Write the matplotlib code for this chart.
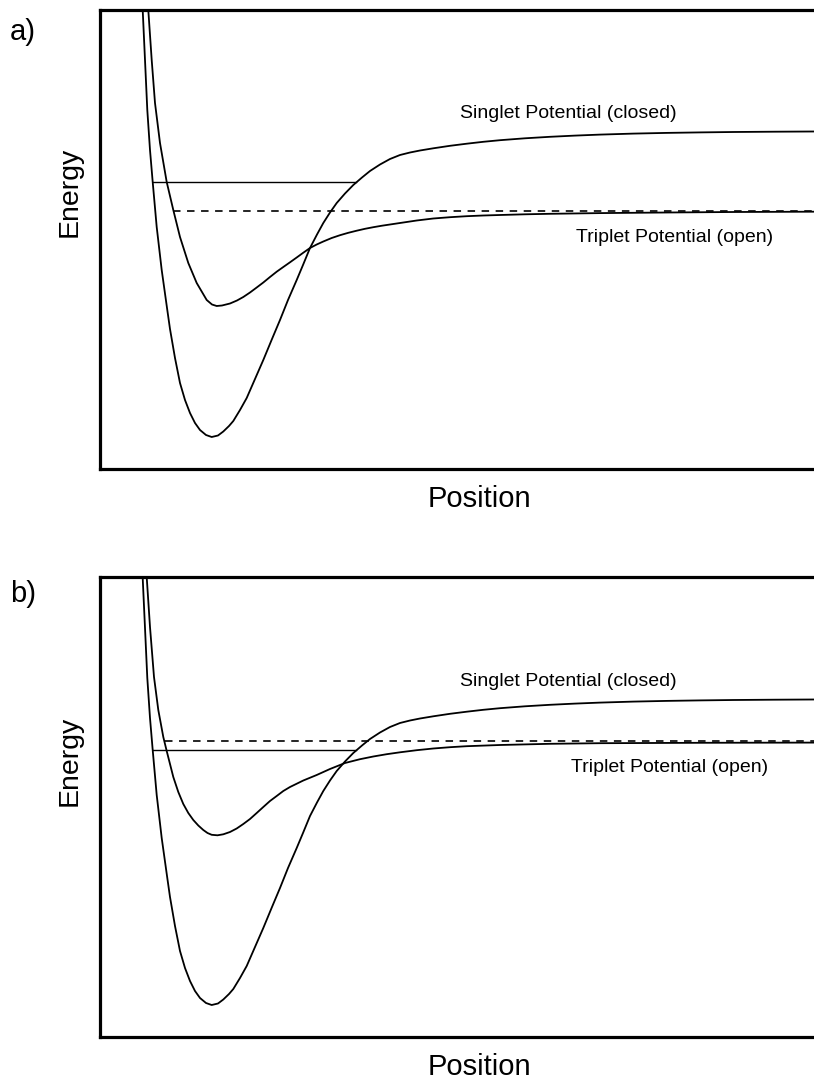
import matplotlib
matplotlib.use("Agg")
import matplotlib.pyplot as plt

plt.rcParams['font.family'] = ['Liberation Sans', 'DejaVu Sans']
plt.rcParams['lines.scale_dashes'] = False

# singlet (closed channel) potential, same curve in both panels
singlet_r = [0.41, 0.427, 0.45, 0.473, 0.50, 0.527, 0.567, 0.617, 0.673, 0.70, 0.75, 0.80,
             0.85, 0.90, 0.95, 1.00, 1.06, 1.117, 1.18, 1.233, 1.29, 1.333, 1.40, 1.467,
             1.55, 1.633, 1.72, 1.80, 1.88, 1.967, 2.03, 2.10, 2.17, 2.233, 2.30, 2.367,
             2.45, 2.533, 2.62, 2.70, 2.80, 2.90, 3.00, 3.10, 3.20, 3.333, 3.50, 3.667,
             3.833, 4.00, 4.25, 4.50, 4.75, 5.00, 5.333, 5.667, 6.00, 6.333, 6.75, 7.133,
             7.60]
singlet_e = [5.0, 4.59, 4.09, 3.59, 3.19, 2.87, 2.42, 1.99, 1.59, 1.40, 1.11, 0.86,
             0.69, 0.56, 0.46, 0.39, 0.34, 0.32, 0.335, 0.375, 0.43, 0.48, 0.59, 0.71,
             0.90, 1.09, 1.30, 1.49, 1.69, 1.89, 2.04, 2.21, 2.345, 2.46, 2.565, 2.66,
             2.755, 2.84, 2.915, 2.98, 3.045, 3.10, 3.14, 3.165, 3.185, 3.207, 3.232, 3.253,
             3.272, 3.288, 3.307, 3.322, 3.334, 3.344, 3.354, 3.361, 3.366, 3.37, 3.373, 3.375,
             3.377]

# triplet (open channel) potential, panel a
triplet_a_r = [0.455, 0.483, 0.517, 0.55, 0.60, 0.667, 0.733, 0.80, 0.883, 0.967, 1.067,
               1.12, 1.167, 1.22, 1.30, 1.37, 1.433, 1.50, 1.567, 1.633, 1.70, 1.767,
               1.833, 1.90, 1.967, 2.033, 2.10, 2.167, 2.233, 2.317, 2.40, 2.483, 2.567,
               2.65, 2.733, 2.82, 2.90, 3.00, 3.167, 3.333, 3.50, 3.667, 3.833, 4.0,
               4.25, 4.5, 5.0, 5.667, 6.333, 7.133, 7.6]
triplet_a_e = [5.0, 4.59, 4.09, 3.66, 3.26, 2.87, 2.59, 2.32, 2.06, 1.86, 1.69,
               1.645, 1.63, 1.635, 1.655, 1.685, 1.72, 1.765, 1.815, 1.865, 1.92, 1.973,
               2.02, 2.067, 2.115, 2.163, 2.21, 2.245, 2.275, 2.31, 2.338, 2.362, 2.383,
               2.402, 2.418, 2.433, 2.445, 2.46, 2.485, 2.505, 2.518, 2.528, 2.535, 2.54,
               2.547, 2.552, 2.559, 2.565, 2.57, 2.573, 2.575]

# triplet potential, panel b (shallower well)
triplet_b_r = [0.44, 0.467, 0.50, 0.54, 0.583, 0.633, 0.667, 0.733, 0.783, 0.833, 0.883,
               0.933, 0.983, 1.033, 1.075, 1.117, 1.175, 1.233, 1.30, 1.367, 1.433, 1.50,
               1.567, 1.633, 1.70, 1.767, 1.833, 1.90, 2.033, 2.167, 2.30, 2.45, 2.60,
               2.733, 2.867, 3.00, 3.167, 3.333, 3.50, 3.667, 4.0, 4.5, 5.0, 6.0, 7.13, 7.6]
triplet_b_e = [5.0, 4.60, 4.10, 3.60, 3.27, 3.00, 2.86, 2.60, 2.45, 2.33, 2.24,
               2.17, 2.115, 2.07, 2.04, 2.022, 2.017, 2.027, 2.05, 2.085, 2.13, 2.18,
               2.24, 2.30, 2.36, 2.41, 2.46, 2.50, 2.565, 2.62, 2.68, 2.74, 2.778,
               2.805, 2.828, 2.847, 2.868, 2.885, 2.898, 2.908, 2.92, 2.932, 2.938, 2.942, 2.944, 2.945]

# bound state (solid) and threshold (dashed) levels
bound_r = [0.527, 2.56]
bound_e = [2.87, 2.87]
thresh_a_r = [0.733, 7.6]
thresh_a_e = [2.585, 2.585]
thresh_b_r = [0.65, 7.6]
thresh_b_e = [2.96, 2.96]

panels = [
    ("a)", triplet_a_r, triplet_a_e, thresh_a_r, thresh_a_e, (5.75, 2.32)),
    ("b)", triplet_b_r, triplet_b_e, thresh_b_r, thresh_b_e, (5.695, 2.70)),
]

W, H = 814, 1082
fig = plt.figure(figsize=(W / 100, H / 100), dpi=100)

# axes boxes in pixels: (left, top, right, bottom), right edge runs off the canvas
boxes = [(100, 10, 856, 469), (100, 577, 856, 1037)]
energy_y = [192, 761]
letter_y = [32, 594]
pos_y = [499, 1067]

for i, (tag, tr, te, dr, de, trip_xy) in enumerate(panels):
    l, t, r, b = boxes[i]
    ax = fig.add_axes([l / W, 1 - b / H, (r - l) / W, (b - t) / H])
    ax.plot(singlet_r, singlet_e, color='black', lw=1.3)
    ax.plot(tr, te, color='black', lw=1.3)
    ax.plot(bound_r, bound_e, color='black', lw=1.0)
    ax.plot(dr, de, color='black', lw=1.2, linestyle=(0, (5.4, 4.7)))
    ax.set_xlim(0, (r - l) / 100)
    ax.set_ylim(0, (b - t) / 100)
    ax.set_xticks([])
    ax.set_yticks([])
    for s in ax.spines.values():
        s.set_linewidth(2.3)
    ax.text(4.68, 3.56, "Singlet Potential (closed)", fontsize=14, ha='center', va='center')
    ax.text(trip_xy[0], trip_xy[1], "Triplet Potential (open)", fontsize=14, ha='center', va='center')

    fig.text(70 / W, 1 - energy_y[i] / H, "Energy", rotation=90, fontsize=20.5,
             ha='center', va='center')
    fig.text(479 / W, 1 - pos_y[i] / H, "Position", fontsize=21, ha='center', va='center')
    fig.text(10 / W, 1 - letter_y[i] / H, tag, fontsize=21, ha='left', va='center')

fig.savefig("out.png", dpi=100)
